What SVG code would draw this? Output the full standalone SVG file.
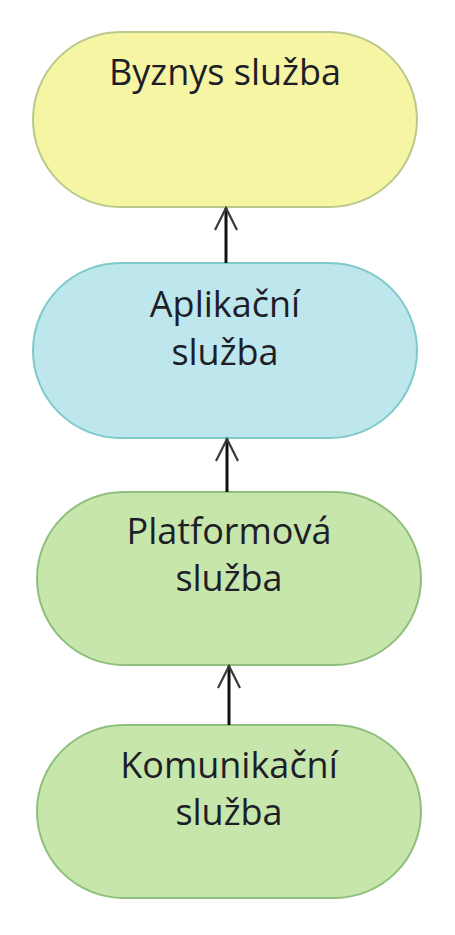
<svg xmlns="http://www.w3.org/2000/svg" width="455" height="935" viewBox="0 0 455 935">
<defs>
<marker id="arr" markerWidth="26" markerHeight="26" refX="23" refY="13" orient="auto" markerUnits="userSpaceOnUse" viewBox="0 0 26 26">
<path d="M1,2 L23,13 L1,24" fill="none" stroke="#3a3a3a" stroke-width="2.2"/>
</marker>
</defs>
<style>
.lbl{font-family:"Open Sans",sans-serif;font-size:36px;fill:#1e1e28;text-anchor:middle}
.c{stroke:#111;stroke-width:3;fill:none}
</style>
<rect width="455" height="935" fill="#fff"/>
<g id="n1">
<rect x="33" y="32" width="384" height="175" rx="87.5" fill="#f5f5a3" stroke="#b9c98c" stroke-width="2"/>
<text class="lbl" x="225" y="85">Byznys služba</text>
</g>
<g id="n2">
<rect x="33" y="263" width="384" height="175" rx="87.5" fill="#bde7ec" stroke="#7ecac9" stroke-width="2"/>
<text class="lbl" x="225" y="317">Aplikační</text>
<text class="lbl" x="225" y="365">služba</text>
</g>
<g id="n3">
<rect x="37" y="492" width="384" height="173" rx="86.5" fill="#c6e6ab" stroke="#8fbf7c" stroke-width="2"/>
<text class="lbl" x="229" y="544">Platformová</text>
<text class="lbl" x="229" y="591">služba</text>
</g>
<g id="n4">
<rect x="37" y="725" width="384" height="173" rx="86.5" fill="#c6e6ab" stroke="#8fbf7c" stroke-width="2"/>
<text class="lbl" x="229" y="778">Komunikační</text>
<text class="lbl" x="229" y="825">služba</text>
</g>
<g id="connectors">
<line class="c" x1="226" y1="263" x2="226" y2="208" marker-end="url(#arr)"/>
<line class="c" x1="227" y1="492" x2="227" y2="439" marker-end="url(#arr)"/>
<line class="c" x1="229" y1="725" x2="229" y2="666" marker-end="url(#arr)"/>
</g>
</svg>
